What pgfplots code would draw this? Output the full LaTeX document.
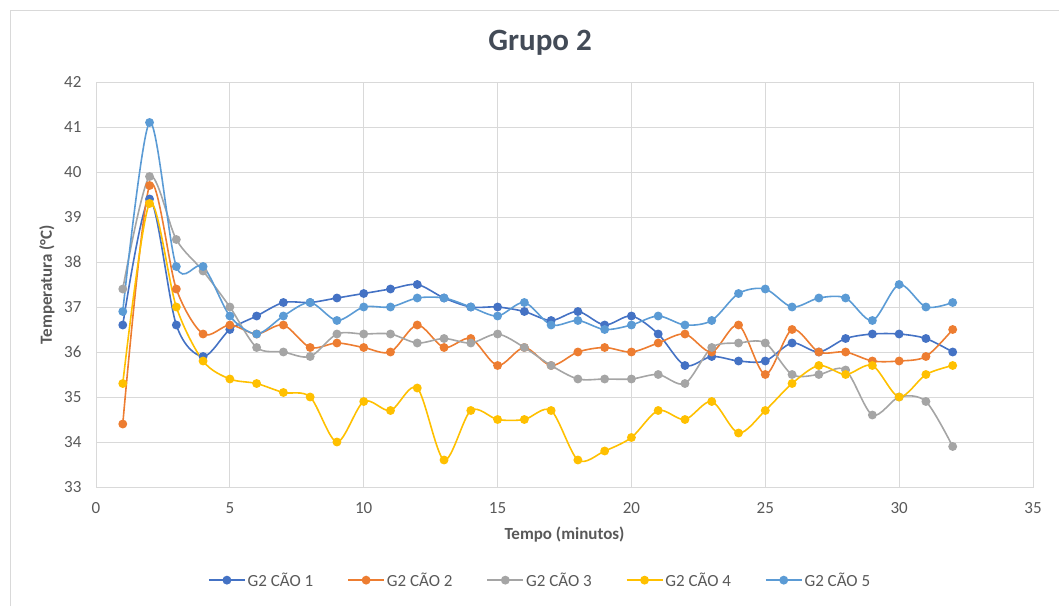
\documentclass[border=0pt]{standalone}
\usepackage{pgfplots}
\usepackage{pgfplotstable}
\pgfplotsset{compat=1.18}
\usepackage{fontspec}
\setmainfont{Carlito}
\definecolor{c1}{HTML}{4472C4}
\definecolor{c2}{HTML}{ED7D31}
\definecolor{c3}{HTML}{A5A5A5}
\definecolor{c4}{HTML}{FFC000}
\definecolor{c5}{HTML}{5B9BD5}
\definecolor{gridc}{HTML}{D9D9D9}
\definecolor{tickc}{HTML}{595959}
\definecolor{titlec}{HTML}{434B57}
\pgfplotstableread{
x s1 s2 s3 s4 s5
1 36.6 34.4 37.4 35.3 36.9
2 39.4 39.7 39.9 39.3 41.1
3 36.6 37.4 38.5 37.0 37.9
4 35.9 36.4 37.8 35.8 37.9
5 36.5 36.6 37.0 35.4 36.8
6 36.8 36.4 36.1 35.3 36.4
7 37.1 36.6 36.0 35.1 36.8
8 37.1 36.1 35.9 35.0 37.1
9 37.2 36.2 36.4 34.0 36.7
10 37.3 36.1 36.4 34.9 37.0
11 37.4 36.0 36.4 34.7 37.0
12 37.5 36.6 36.2 35.2 37.2
13 37.2 36.1 36.3 33.6 37.2
14 37.0 36.3 36.2 34.7 37.0
15 37.0 35.7 36.4 34.5 36.8
16 36.9 36.1 36.1 34.5 37.1
17 36.7 35.7 35.7 34.7 36.6
18 36.9 36.0 35.4 33.6 36.7
19 36.6 36.1 35.4 33.8 36.5
20 36.8 36.0 35.4 34.1 36.6
21 36.4 36.2 35.5 34.7 36.8
22 35.7 36.4 35.3 34.5 36.6
23 35.9 36.0 36.1 34.9 36.7
24 35.8 36.6 36.2 34.2 37.3
25 35.8 35.5 36.2 34.7 37.4
26 36.2 36.5 35.5 35.3 37.0
27 36.0 36.0 35.5 35.7 37.2
28 36.3 36.0 35.6 35.5 37.2
29 36.4 35.8 34.6 35.7 36.7
30 36.4 35.8 35.0 35.0 37.5
31 36.3 35.9 34.9 35.5 37.0
32 36.0 36.5 33.9 35.7 37.1
}\data
\begin{document}
\begin{tikzpicture}
\path[use as bounding box] (0,0) rectangle (1059pt,606pt);
\draw[color=gridc, line width=0.8pt] (10pt,0) -- (10pt,596pt) -- (1059pt,596pt);
\begin{axis}[
  at={(96pt,119pt)}, anchor=south west,
  scale only axis, width=937pt, height=405pt,
  xmin=0, xmax=35, ymin=33, ymax=42,
  xtick distance=5, ytick distance=1,
  grid=major, grid style={color=gridc, line width=0.8pt},
  axis line style={draw=gridc, line width=0.8pt},
  major tick length=0pt,
  /pgf/number format/assume math mode=true,
  tick label style={font=\fontsize{17}{20}\selectfont, text=tickc},
  yticklabel style={xshift=-11pt},
  xticklabel style={yshift=-12pt},
  title={Grupo 2},
  every axis title/.style={at={(rel axis cs:0.474,1)}, anchor=center, yshift=39pt,
    font=\fontsize{31}{34}\selectfont\bfseries, text=titlec},
  xlabel={Tempo (minutos)},
  ylabel={Temperatura (°C)},
  every axis x label/.style={at={(rel axis cs:0.5,0)}, anchor=center, yshift=-48pt,
    font=\fontsize{17}{20}\selectfont\bfseries, text=tickc},
  every axis y label/.style={at={(rel axis cs:0,0.5)}, anchor=center, xshift=-49pt, rotate=90,
    font=\fontsize{17}{20}\selectfont\bfseries, text=tickc},
  legend columns=5,
  legend style={at={(0.474,-0.23)}, anchor=center, draw=none, fill=none,
    font=\fontsize{17}{20}\selectfont, text=tickc,
    /tikz/every even column/.append style={column sep=32pt}},
  legend image code/.code={
    \draw[#1, mark=none] (0pt,0pt) -- (36pt,0pt);
    \draw[#1, only marks] plot coordinates {(18pt,0pt)};
  },
  every axis plot/.append style={line width=1.6pt, smooth, tension=0.5, mark=*, mark size=3.6pt},
]
\addplot[c1, mark options={fill=c1, draw=c1}] table[x=x, y=s1] {\data};
\addlegendentry{G2 CÃO 1}
\addplot[c2, mark options={fill=c2, draw=c2}] table[x=x, y=s2] {\data};
\addlegendentry{G2 CÃO 2}
\addplot[c3, mark options={fill=c3, draw=c3}] table[x=x, y=s3] {\data};
\addlegendentry{G2 CÃO 3}
\addplot[c4, mark options={fill=c4, draw=c4}] table[x=x, y=s4] {\data};
\addlegendentry{G2 CÃO 4}
\addplot[c5, mark options={fill=c5, draw=c5}] table[x=x, y=s5] {\data};
\addlegendentry{G2 CÃO 5}
\end{axis}
\end{tikzpicture}
\end{document}
